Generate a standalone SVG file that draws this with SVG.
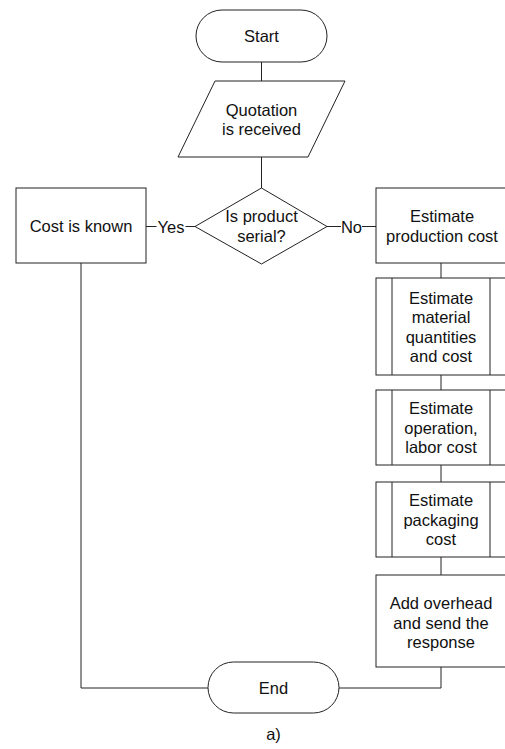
<svg xmlns="http://www.w3.org/2000/svg" width="505" height="749" viewBox="0 0 505 749">
<style>
.s{fill:#fff;stroke:#222;stroke-width:1}
.c{fill:none;stroke:#222;stroke-width:1}
text{font-family:"Liberation Sans",Arial,sans-serif;font-size:16.5px;fill:#111;text-anchor:middle}
</style>
<rect width="505" height="749" fill="#fff"/>
<g id="connectors">
<path class="c" d="M261.5,62V81"/>
<path class="c" d="M261.5,157V188"/>
<path class="c" d="M195,226.5H185.5M156.5,226.5H146"/>
<path class="c" d="M327,226.5H341M362,226.5H376"/>
<path class="c" d="M81,263V688H208"/>
<path class="c" d="M441,263V278"/>
<path class="c" d="M441,375V390"/>
<path class="c" d="M441,465V482"/>
<path class="c" d="M441,557V575"/>
<path class="c" d="M441,667V688H339"/>
<text x="171" y="232.5">Yes</text>
<text x="351.5" y="232.5">No</text>
</g>
<g id="start">
<rect class="s" x="196" y="10" width="131" height="52" rx="26"/>
<text x="261.5" y="42">Start</text>
</g>
<g id="quotation">
<polygon class="s" points="215,81 345,81 308,157 178,157"/>
<text x="261.5" y="115.5">Quotation</text>
<text x="261.5" y="135">is received</text>
</g>
<g id="decision">
<polygon class="s" points="261.5,188 327,226.5 261.5,264 195,226.5"/>
<text x="261.5" y="222">Is product</text>
<text x="261.5" y="241.5">serial?</text>
</g>
<g id="known">
<rect class="s" x="16" y="188" width="130" height="75"/>
<text x="81" y="231.5">Cost is known</text>
</g>
<g id="production">
<rect class="s" x="376" y="188" width="130" height="75"/>
<text x="442" y="222">Estimate</text>
<text x="442" y="241.5">production cost</text>
</g>
<g id="material">
<rect class="s" x="376" y="278" width="130" height="97"/>
<path class="c" d="M392,278V375M490,278V375"/>
<text x="441" y="303.5">Estimate</text>
<text x="441" y="323">material</text>
<text x="441" y="342.5">quantities</text>
<text x="441" y="362">and cost</text>
</g>
<g id="labor">
<rect class="s" x="376" y="390" width="130" height="75"/>
<path class="c" d="M392,390V465M490,390V465"/>
<text x="441" y="414">Estimate</text>
<text x="441" y="433.5">operation,</text>
<text x="441" y="453">labor cost</text>
</g>
<g id="packaging">
<rect class="s" x="376" y="482" width="130" height="75"/>
<path class="c" d="M392,482V557M490,482V557"/>
<text x="441" y="506">Estimate</text>
<text x="441" y="525.5">packaging</text>
<text x="441" y="545">cost</text>
</g>
<g id="overhead">
<rect class="s" x="376" y="575" width="130" height="92"/>
<text x="441" y="609">Add overhead</text>
<text x="441" y="628.5">and send the</text>
<text x="441" y="648">response</text>
</g>
<g id="end">
<rect class="s" x="208" y="662" width="131" height="51" rx="25.5"/>
<text x="273.5" y="693.5">End</text>
</g>
<text x="273.5" y="740">a)</text>
</svg>
